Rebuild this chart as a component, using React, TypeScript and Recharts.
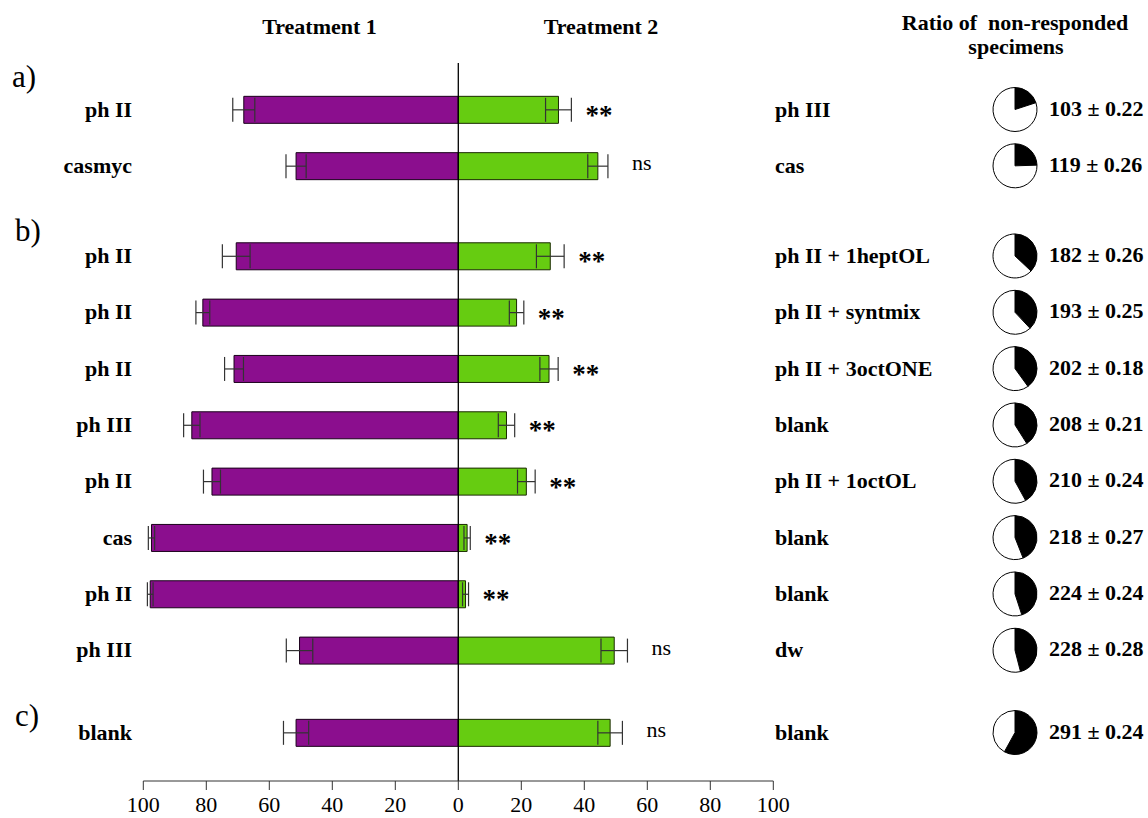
import React from 'react';
import { BarChart, Bar, XAxis, YAxis, ErrorBar, ReferenceLine, LabelList, PieChart, Pie, Cell } from 'recharts';

// ---------- data ----------
const groupNames = ['a)', 'b)', 'c)'];
const rowGroups = [0, 0, 1, 1, 1, 1, 1, 1, 1, 1, 2];
const treatment1Labels = ['ph II', 'casmyc', 'ph II', 'ph II', 'ph II', 'ph III', 'ph II', 'cas', 'ph II', 'ph III', 'blank'];
const treatment2Labels = ['ph III', 'cas', 'ph II + 1heptOL', 'ph II + syntmix', 'ph II + 3octONE', 'blank', 'ph II + 1octOL', 'blank', 'blank', 'dw', 'blank'];
const treatment1Values = [68.1, 51.5, 70.5, 81.1, 71.2, 84.6, 78.2, 97.4, 97.8, 50.4, 51.5];
const treatment1Errors = [3.5, 3.2, 4.4, 2.2, 3.0, 2.6, 2.7, 1.0, 0.9, 4.2, 4.0];
const treatment2Values = [31.8, 44.3, 29.2, 18.5, 28.8, 15.3, 21.6, 2.8, 2.3, 49.5, 48.2];
const treatment2Errors = [4.1, 3.2, 4.4, 2.3, 2.9, 2.6, 2.8, 1.0, 0.95, 4.2, 3.9];
const significance = ['**', 'ns', '**', '**', '**', '**', '**', '**', '**', 'ns', 'ns'];
const nonRespondedCounts = [103, 119, 182, 193, 202, 208, 210, 218, 224, 228, 291];
const nonRespondedSd = ['0.22', '0.26', '0.26', '0.25', '0.18', '0.21', '0.24', '0.27', '0.24', '0.28', '0.24'];
const nonRespondedFractions = [0.2, 0.245, 0.37, 0.38, 0.4, 0.41, 0.42, 0.44, 0.45, 0.46, 0.58];
const xTicks = [-100, -80, -60, -40, -20, 0, 20, 40, 60, 80, 100];

// ---------- layout ----------
const W = 1148;
const H = 818;
const FONT = 'Liberation Serif, Times New Roman, serif';
const FS = 22;
const PLOT_LEFT = 143.3;
const PLOT_RIGHT = 773.3;
const PLOT_TOP = 63;
const PLOT_BOTTOM = 781;
const X_AXIS_H = 30;
const Y_AXIS_W = 1;
const FIRST_ROW_PX = 109.5;
const ROW_PX = 56.33;
const GROUP_GAPS = [0, 0.6, 0.46];
const PX_PER_UNIT = (PLOT_RIGHT - PLOT_LEFT) / 200;

const rowPositions: number[] = [];
{
  let acc = 0;
  rowGroups.forEach((g, i) => {
    if (i > 0) acc += 1 + (g !== rowGroups[i - 1] ? GROUP_GAPS[g] : 0);
    rowPositions.push(acc);
  });
}
const Y_MIN = (PLOT_TOP - FIRST_ROW_PX) / ROW_PX;
const Y_MAX = (PLOT_BOTTOM - FIRST_ROW_PX) / ROW_PX;
const rowPx = (pos: number) => PLOT_TOP + ((pos - Y_MIN) / (Y_MAX - Y_MIN)) * (PLOT_BOTTOM - PLOT_TOP);

const chartData = rowPositions.map((pos, i) => ({
  pos,
  t1: -treatment1Values[i],
  t1Err: treatment1Errors[i],
  t2: treatment2Values[i],
  t2Err: treatment2Errors[i],
  sig: significance[i],
}));

const findRow = (v: number) => rowPositions.findIndex((p) => Math.abs(p - v) < 1e-6);

const LeftTick = (props: any) => {
  const i = findRow(props.payload.value);
  if (i < 0) return <g />;
  return (
    <text x={132} y={props.y} dy={7} textAnchor="end" fontFamily={FONT} fontWeight="bold" fontSize={FS} fill="#000">
      {treatment1Labels[i]}
    </text>
  );
};

const RightTick = (props: any) => {
  const i = findRow(props.payload.value);
  if (i < 0) return <g />;
  return (
    <g>
      <text x={775} y={props.y} dy={7} textAnchor="start" fontFamily={FONT} fontWeight="bold" fontSize={FS} fill="#000">
        {treatment2Labels[i]}
      </text>
      <text x={1049} y={props.y} dy={6} textAnchor="start" fontFamily={FONT} fontWeight="bold" fontSize={FS} fill="#000">
        {`${nonRespondedCounts[i]} ± ${nonRespondedSd[i]}`}
      </text>
    </g>
  );
};

const XTick = (props: any) => (
  <text x={props.x} y={props.y} dy={18} textAnchor="middle" fontFamily={FONT} fontSize={FS} fill="#000">
    {String(Math.abs(props.payload.value))}
  </text>
);

const SigLabel = (props: any) => {
  const { x, y, width, height, index } = props;
  const i = typeof index === 'number' ? index : 0;
  const mark = significance[i];
  const endX = Number(x) + Number(width) + treatment2Errors[i] * PX_PER_UNIT;
  const cy = Number(y) + Number(height) / 2;
  if (mark === 'ns') {
    return (
      <text x={endX + 24} y={cy + 4} fontFamily={FONT} fontSize={FS} fill="#000">
        ns
      </text>
    );
  }
  return (
    <text x={endX + 14} y={cy + 14} fontFamily={FONT} fontWeight="bold" fontSize={27} fill="#000">
      {mark}
    </text>
  );
};

const groupLabelPos = [
  { x: 12, y: 87 },
  { x: 15, y: 241 },
  { x: 15, y: 726 },
];

export default function App() {
  return (
    <div style={{ position: 'absolute', left: 0, top: 0, width: W, height: H, background: '#fff' }}>
      <div style={{ position: 'absolute', left: 0, top: 0 }}>
        <BarChart
          width={W}
          height={H}
          data={chartData}
          layout="vertical"
          stackOffset="sign"
          margin={{
            top: PLOT_TOP,
            bottom: H - PLOT_BOTTOM - X_AXIS_H,
            left: PLOT_LEFT - Y_AXIS_W,
            right: W - PLOT_RIGHT - Y_AXIS_W,
          }}
        >
          <XAxis
            type="number"
            domain={[-100, 100]}
            ticks={xTicks}
            interval={0}
            height={X_AXIS_H}
            tickSize={9}
            tickMargin={4}
            stroke="#333"
            tick={XTick}
            allowDataOverflow
          />
          <YAxis
            yAxisId="left"
            type="number"
            dataKey="pos"
            domain={[Y_MIN, Y_MAX]}
            allowDataOverflow
            width={Y_AXIS_W}
            ticks={rowPositions}
            interval={0}
            axisLine={false}
            tickLine={false}
            tick={LeftTick}
          />
          <YAxis
            yAxisId="right"
            orientation="right"
            type="number"
            dataKey="pos"
            domain={[Y_MIN, Y_MAX]}
            allowDataOverflow
            width={Y_AXIS_W}
            ticks={rowPositions}
            interval={0}
            axisLine={false}
            tickLine={false}
            tick={RightTick}
          />
          <Bar dataKey="t1" yAxisId="left" stackId="s" barSize={27} fill="#8B0E8E" stroke="#1a001a" strokeWidth={1} isAnimationActive={false}>
            <ErrorBar dataKey="t1Err" direction="x" width={12} stroke="#333" strokeWidth={1.2} />
          </Bar>
          <Bar dataKey="t2" yAxisId="left" stackId="s" barSize={27} fill="#66CC11" stroke="#1a2a00" strokeWidth={1} isAnimationActive={false}>
            <ErrorBar dataKey="t2Err" direction="x" width={12} stroke="#333" strokeWidth={1.2} />
            <LabelList dataKey="sig" content={SigLabel} />
          </Bar>
          <ReferenceLine x={0} yAxisId="left" stroke="#000" strokeWidth={1.3} />
          <text x={319.5} y={34} textAnchor="middle" fontFamily={FONT} fontWeight="bold" fontSize={FS} fill="#000">
            Treatment 1
          </text>
          <text x={601} y={34} textAnchor="middle" fontFamily={FONT} fontWeight="bold" fontSize={FS} fill="#000">
            Treatment 2
          </text>
          <text x={1015} y={30} textAnchor="middle" fontFamily={FONT} fontWeight="bold" fontSize={FS} fill="#000" style={{ whiteSpace: 'pre' }}>
            {'Ratio of  non-responded'}
          </text>
          <text x={1016} y={54} textAnchor="middle" fontFamily={FONT} fontWeight="bold" fontSize={FS} fill="#000">
            specimens
          </text>
          {groupNames.map((g, i) => (
            <text key={g} x={groupLabelPos[i].x} y={groupLabelPos[i].y} fontFamily={FONT} fontSize={31} fill="#000">
              {g}
            </text>
          ))}
        </BarChart>
      </div>
      <div style={{ position: 'absolute', left: 0, top: 0, pointerEvents: 'none' }}>
        <PieChart width={W} height={H} margin={{ top: 0, left: 0, right: 0, bottom: 0 }}>
          {nonRespondedFractions.map((f, i) => (
            <Pie
              key={i}
              data={[
                { name: 'non-responded', value: f },
                { name: 'responded', value: 1 - f },
              ]}
              dataKey="value"
              cx={1015}
              cy={rowPx(rowPositions[i])}
              innerRadius={0}
              outerRadius={22}
              startAngle={90}
              endAngle={-270}
              stroke="#000"
              strokeWidth={1}
              isAnimationActive={false}
            >
              <Cell fill="#000" />
              <Cell fill="#fff" />
            </Pie>
          ))}
        </PieChart>
      </div>
    </div>
  );
}
